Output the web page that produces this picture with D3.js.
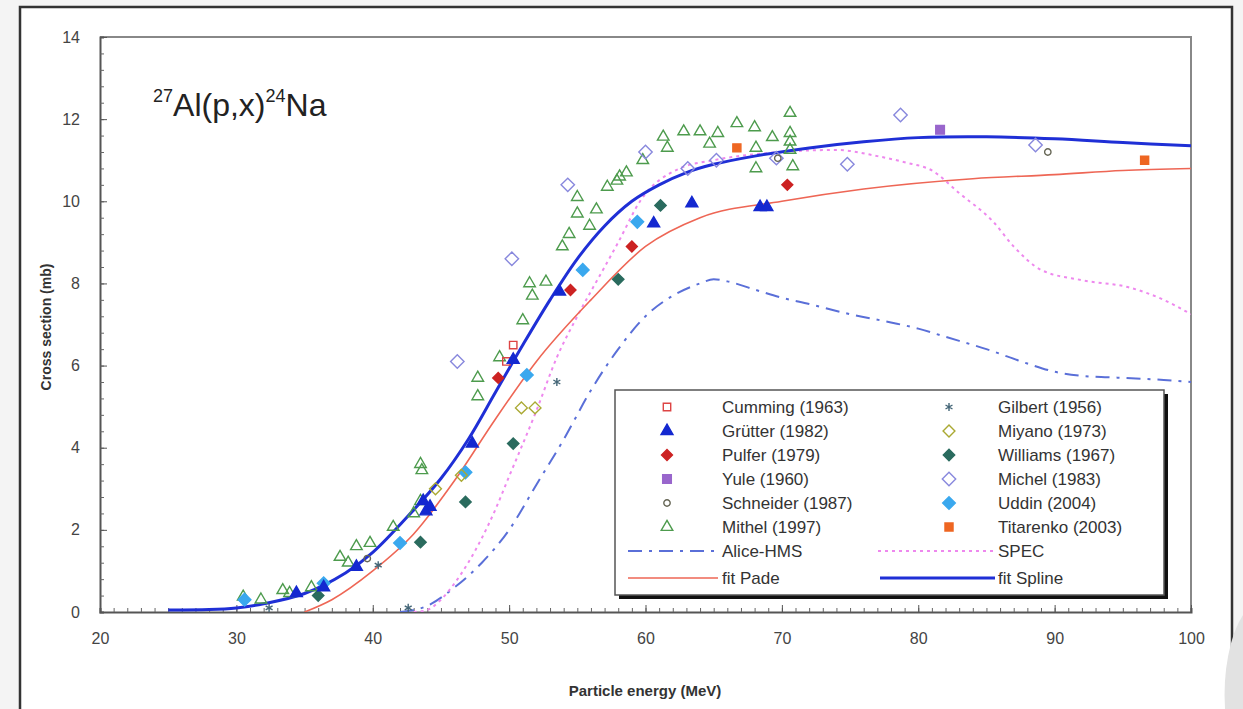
<!DOCTYPE html>
<html><head><meta charset="utf-8">
<script src="https://cdn.jsdelivr.net/npm/d3@7"></script>
<style>
html,body{margin:0;padding:0;background:#f4f4f4;}
svg{display:block;font-family:"Liberation Sans",Arial,sans-serif;}
</style></head>
<body>
<svg id="c" width="1243" height="709"></svg>
<script>
// ---------- data ----------
const xTicks = [20,30,40,50,60,70,80,90,100];
const yTicks = [0,2,4,6,8,10,12,14];

const cumming   = [[50.3,6.5],[49.8,6.1]];
const grutter   = [[34.4,0.46],[36.4,0.6],[38.8,1.1],[43.7,2.7],[44.2,2.56],[43.9,2.45],[47.3,4.1],[50.3,6.14],[53.7,7.8],[60.6,9.46],[63.4,9.95],[68.4,9.86],[68.9,9.86]];
const pulfer    = [[49.2,5.7],[54.5,7.84],[59.0,8.9],[70.4,10.4]];
const yule      = [[81.6,11.74]];
const schneider = [[39.6,1.3],[69.7,11.05],[89.5,11.2]];
const mithel    = [[30.5,0.37],[31.8,0.3],[33.4,0.53],[33.9,0.46],[35.5,0.6],[37.6,1.34],[38.2,1.2],[38.8,1.6],[39.8,1.68],[41.5,2.07],[43.0,2.4],[43.5,2.7],[43.5,3.6],[43.6,3.45],[47.7,5.7],[47.7,5.25],[49.3,6.2],[51.0,7.1],[51.5,8.0],[51.7,7.7],[52.7,8.04],[53.9,8.9],[54.4,9.2],[55.0,10.1],[55.0,9.7],[55.9,9.4],[56.4,9.8],[57.2,10.35],[57.9,10.5],[58.1,10.6],[58.6,10.7],[59.8,11.0],[61.3,11.57],[61.6,11.3],[62.8,11.7],[64.0,11.7],[64.7,11.4],[65.3,11.66],[66.7,11.9],[68.0,11.8],[68.1,11.3],[68.1,10.8],[69.3,11.56],[70.6,12.15],[70.6,11.66],[70.6,11.45],[70.6,11.25],[70.8,10.85]];
const gilbert   = [[32.4,0.1],[40.4,1.14],[42.6,0.1],[53.5,5.6]];
const miyano    = [[44.6,3.0],[46.5,3.33],[50.9,4.97],[51.9,4.97]];
const williams  = [[36.0,0.4],[43.5,1.7],[46.8,2.68],[50.3,4.1],[58.0,8.1],[61.1,9.9]];
const michel    = [[46.2,6.1],[50.2,8.6],[54.3,10.4],[60.0,11.2],[63.1,10.8],[65.2,11.0],[69.6,11.05],[74.8,10.9],[78.7,12.1],[88.6,11.37]];
const uddin     = [[30.6,0.3],[36.4,0.7],[42.0,1.68],[46.8,3.4],[51.3,5.77],[55.4,8.33],[59.4,9.5]];
const titarenko = [[66.7,11.3],[96.6,11.0]];

const aliceE = [42,44,46,48,50,52,54,56,58,60,62,64,65,66,68,70,72,75,78,80,82,85,88,90,92,95,98,100];
const aliceV = [0,0.15,0.6,1.2,2.0,3.1,4.2,5.4,6.4,7.2,7.7,8.0,8.1,8.05,7.85,7.65,7.5,7.25,7.05,6.9,6.7,6.4,6.05,5.85,5.75,5.7,5.65,5.6];
const specE = [43,44,45,46,47,48,49,50,52,53.5,55,57,58,59.6,62.5,65,70,74,77,79,81,83,85.5,87,89,92,95.5,98,100];
const specV = [0,0.05,0.3,0.7,1.2,1.8,2.5,3.3,4.9,6.2,7.2,8.4,9.0,10.0,10.8,11.0,11.2,11.25,11.1,10.95,10.75,10.2,9.5,8.9,8.33,8.08,7.9,7.6,7.25];
const padeE = [35,37,40,43,46,49,52,56,60,64,70,76,84,90,95,100];
const padeV = [0,0.3,1.0,1.9,3.2,4.7,6.1,7.6,8.9,9.6,10.0,10.3,10.55,10.65,10.75,10.8];
const splineE = [25,28,30,32,35,38,40,42.9,45,47,49,51,53,55,57,59,61,63,65,68,72,76,80,85,90,95,100];
const splineV = [0.05,0.06,0.1,0.2,0.45,0.95,1.45,2.45,3.25,4.2,5.35,6.5,7.6,8.6,9.4,10.0,10.4,10.7,10.9,11.1,11.3,11.45,11.55,11.57,11.52,11.43,11.35];

// ---------- layout ----------
const svg = d3.select("#c");
const L=100, R=1191, T=37, B=612;
const x = d3.scaleLinear().domain([20,100]).range([L,R]);
const y = d3.scaleLinear().domain([0,14]).range([B,T]);

// outer frame
svg.append("rect").attr("x",20).attr("y",7).attr("width",1212).attr("height",720)
  .attr("fill","#fff").attr("stroke","#333").attr("stroke-width",2.5);
// corner artifact
svg.append("path").attr("d","M1243,615 A40,95 0 0 0 1225,709 L1243,709 Z").attr("fill","#e2e2e2");

// plot border (top/right)
svg.append("path").attr("d",`M${L},${T}H${R}V${B}`).attr("fill","none").attr("stroke","#888").attr("stroke-width",2);

// axes
const gx = svg.append("g").attr("transform",`translate(0,${B})`);
gx.call(d3.axisBottom(x).tickValues(d3.range(20,100.1,1)).tickSize(-4).tickFormat(""));
gx.selectAll(".tick line").attr("stroke","#666");
gx.select(".domain").attr("stroke","#555").attr("stroke-width",2);
const gx2 = svg.append("g").attr("transform",`translate(0,${B})`);
gx2.call(d3.axisBottom(x).tickValues(xTicks).tickSize(-7).tickPadding(21));
gx2.select(".domain").remove();
gx2.selectAll(".tick line").attr("stroke","#555");
gx2.selectAll("text").attr("font-size",16).attr("fill","#444").attr("font-family","Liberation Sans, Arial");

const gy = svg.append("g").attr("transform",`translate(${L},0)`);
gy.call(d3.axisLeft(y).tickValues(d3.range(0,14.01,0.4)).tickSize(-4).tickFormat(""));
gy.selectAll(".tick line").attr("stroke","#666");
gy.select(".domain").attr("stroke","#555").attr("stroke-width",2);
const gy2 = svg.append("g").attr("transform",`translate(${L},0)`);
gy2.call(d3.axisLeft(y).tickValues(yTicks).tickSize(-7).tickPadding(20));
gy2.select(".domain").remove();
gy2.selectAll(".tick line").attr("stroke","#555");
gy2.selectAll("text").attr("font-size",16).attr("fill","#444").attr("font-family","Liberation Sans, Arial");

// axis titles
svg.append("text").attr("x",645).attr("y",696).attr("text-anchor","middle")
  .attr("font-size",15).attr("font-weight","bold").attr("fill","#333").text("Particle energy (MeV)");
svg.append("text").attr("transform","translate(51,327) rotate(-90)").attr("text-anchor","middle")
  .attr("font-size",14).attr("font-weight","bold").attr("fill","#333").text("Cross section (mb)");

// title
const tt = svg.append("text").attr("x",153).attr("y",116).attr("fill","#222").attr("font-size",32);
tt.append("tspan").attr("font-size",18).attr("dy",-14).text("27");
tt.append("tspan").attr("dy",14).text("Al(p,x)");
tt.append("tspan").attr("font-size",18).attr("dy",-14).text("24");
tt.append("tspan").attr("dy",14).text("Na");

// ---------- curves ----------
svg.append("clipPath").attr("id","pc").append("rect").attr("x",L).attr("y",T).attr("width",R-L).attr("height",B-T);
const line = d3.line().x(d=>x(d[0])).y(d=>y(d[1])).curve(d3.curveMonotoneX);
const smooth = d3.line().x(d=>x(d[0])).y(d=>y(d[1])).curve(d3.curveCatmullRom.alpha(0.5));
const zip = (a,b)=>a.map((v,i)=>[v,b[i]]);
const cg = svg.append("g").attr("clip-path","url(#pc)");
cg.append("path").attr("d",line(zip(aliceE,aliceV))).attr("fill","none").attr("stroke","#5a6fd8").attr("stroke-width",2).attr("stroke-dasharray","14,7,3,7");
cg.append("path").attr("d",line(zip(specE,specV))).attr("fill","none").attr("stroke","#ee88ee").attr("stroke-width",2).attr("stroke-dasharray","3,4");
cg.append("path").attr("d",line(zip(padeE,padeV))).attr("fill","none").attr("stroke","#ee6655").attr("stroke-width",1.6);

// ---------- markers ----------
const mg = svg.append("g");
const diamond = {draw(ctx,size){const r=Math.sqrt(size/2);ctx.moveTo(0,-r);ctx.lineTo(r,0);ctx.lineTo(0,r);ctx.lineTo(-r,0);ctx.closePath();}};
function sym(type,size){return d3.symbol().type(type).size(size)();}
const series = [
 {name:"Cumming (1963)", data:cumming, type:d3.symbolSquare, size:55, fill:"none", stroke:"#dd4444"},
 {name:"Grütter (1982)", data:grutter, type:d3.symbolTriangle, size:62, fill:"#1428d0", stroke:"#1428d0"},
 {name:"Pulfer (1979)", data:pulfer, type:diamond, size:60, fill:"#cc2222", stroke:"#cc2222"},
 {name:"Yule (1960)", data:yule, type:d3.symbolSquare, size:75, fill:"#9966cc", stroke:"#9966cc"},
 {name:"Schneider (1987)", data:schneider, type:d3.symbolCircle, size:32, fill:"none", stroke:"#666655"},
 {name:"Mithel (1997)", data:mithel, type:d3.symbolTriangle, size:58, fill:"none", stroke:"#4d9b4d"},
 {name:"Gilbert (1956)", data:gilbert, type:d3.symbolAsterisk||d3.symbolCross, size:45, fill:"#446677", stroke:"#446677"},
 {name:"Miyano (1973)", data:miyano, type:diamond, size:70, fill:"none", stroke:"#aaa933"},
 {name:"Williams (1967)", data:williams, type:diamond, size:65, fill:"#2a6b5e", stroke:"#2a6b5e"},
 {name:"Michel (1983)", data:michel, type:diamond, size:90, fill:"none", stroke:"#8888dd"},
 {name:"Uddin (2004)", data:uddin, type:diamond, size:80, fill:"#3aa8ee", stroke:"#3aa8ee"},
 {name:"Titarenko (2003)", data:titarenko, type:d3.symbolSquare, size:65, fill:"#ee6622", stroke:"#ee6622"}
];
const drawOrder = [5,9,10,8,6,7,4,0,2,1,3,11];
drawOrder.forEach(i=>{
  const s=series[i];
  mg.selectAll(null).data(s.data).enter().append("path")
    .attr("d",sym(s.type,s.size)).attr("transform",d=>`translate(${x(d[0])},${y(d[1])})`)
    .attr("fill",s.fill).attr("stroke",s.stroke).attr("stroke-width",1.4);
});

// spline on top
cg.append("path").attr("d",smooth(zip(splineE,splineV))).attr("fill","none").attr("stroke","#1f2fd6").attr("stroke-width",3);

// ---------- legend ----------
const lg = svg.append("g");
lg.append("rect").attr("x",619).attr("y",394).attr("width",549).attr("height",205).attr("fill","#111");
lg.append("rect").attr("x",615).attr("y",390).attr("width",549).attr("height",205).attr("fill","#fff").attr("stroke","#555").attr("stroke-width",1.5);
const rowY = [407,431,455,479,503,527,551,578];
series.forEach((s,i)=>{
  const col = i<6?0:1, r = i%6;
  const mx = col? 949:667, tx = col? 998:722;
  lg.append("path").attr("d",sym(s.type,s.size)).attr("transform",`translate(${mx},${rowY[r]})`)
    .attr("fill",s.fill).attr("stroke",s.stroke).attr("stroke-width",1.4);
  lg.append("text").attr("x",tx).attr("y",rowY[r]+6).attr("font-size",17).attr("fill","#333").text(s.name);
});
const lineItems = [
 {name:"Alice-HMS", x1:628,x2:718,tx:722,row:6,stroke:"#5a6fd8",w:2,dash:"14,7,3,7"},
 {name:"SPEC", x1:878,x2:995,tx:998,row:6,stroke:"#ee88ee",w:2,dash:"3,4"},
 {name:"fit Pade", x1:628,x2:718,tx:722,row:7,stroke:"#ee6655",w:1.6,dash:null},
 {name:"fit Spline", x1:880,x2:995,tx:998,row:7,stroke:"#1f2fd6",w:3,dash:null}
];
lineItems.forEach(li=>{
  lg.append("line").attr("x1",li.x1).attr("x2",li.x2).attr("y1",rowY[li.row]).attr("y2",rowY[li.row])
    .attr("stroke",li.stroke).attr("stroke-width",li.w).attr("stroke-dasharray",li.dash);
  lg.append("text").attr("x",li.tx).attr("y",rowY[li.row]+6).attr("font-size",17).attr("fill","#333").text(li.name);
});
</script>
</body></html>
